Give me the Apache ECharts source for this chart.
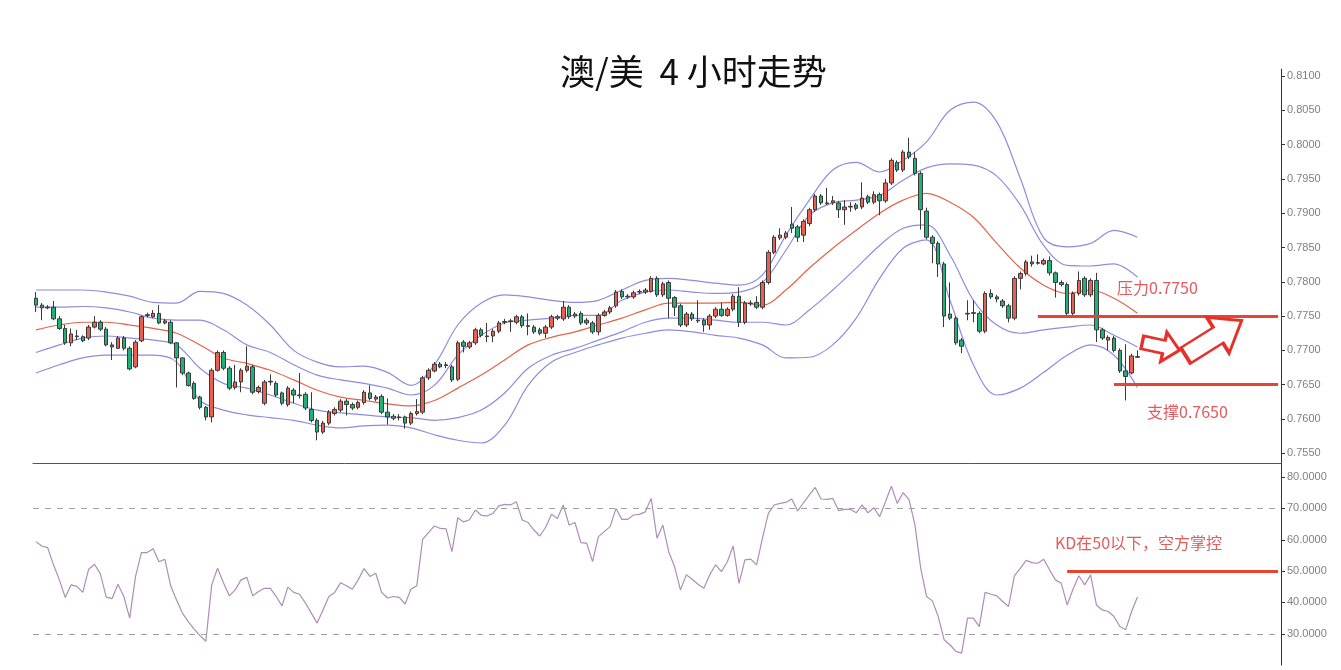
<!DOCTYPE html>
<html><head><meta charset="utf-8">
<script src="https://cdn.jsdelivr.net/npm/echarts@6/dist/echarts.min.js"></script>
<style>html,body{margin:0;padding:0;background:#fff}#c{width:1341px;height:670px}</style>
</head><body><div id="c"></div>
<script>
// [open, close, low, high]
const candles = [
[0.7776,0.7766,0.7756,0.7785],[0.7766,0.7762,0.7744,0.7769],[0.7763,0.7762,0.7760,0.7766],[0.7763,0.7746,0.7744,0.7772],
[0.7746,0.7732,0.7730,0.7750],[0.7732,0.7711,0.7708,0.7737],[0.7711,0.7724,0.7706,0.7732],[0.7721,0.7720,0.7715,0.7730],
[0.7720,0.7714,0.7712,0.7722],[0.7718,0.7734,0.7715,0.7737],[0.7734,0.7741,0.7732,0.7750],[0.7741,0.7731,0.7728,0.7744],
[0.7731,0.7708,0.7706,0.7734],[0.7708,0.7705,0.7686,0.7712],[0.7703,0.7718,0.7702,0.7721],[0.7718,0.7703,0.7700,0.7721],
[0.7703,0.7673,0.7671,0.7706],[0.7676,0.7712,0.7674,0.7715],[0.7714,0.7749,0.7712,0.7751],[0.7751,0.7752,0.7748,0.7755],
[0.7749,0.7754,0.7747,0.7759],[0.7754,0.7740,0.7738,0.7766],[0.7740,0.7743,0.7738,0.7746],[0.7741,0.7711,0.7709,0.7744],
[0.7711,0.7689,0.7646,0.7712],[0.7689,0.7667,0.7664,0.7690],[0.7667,0.7649,0.7647,0.7669],[0.7652,0.7630,0.7628,0.7655],
[0.7632,0.7617,0.7614,0.7634],[0.7617,0.7603,0.7598,0.7619],[0.7603,0.7671,0.7595,0.7674],[0.7671,0.7697,0.7669,0.7700],
[0.7697,0.7674,0.7671,0.7700],[0.7674,0.7645,0.7642,0.7677],[0.7646,0.7654,0.7643,0.7679],[0.7654,0.7671,0.7639,0.7674],
[0.7671,0.7677,0.7668,0.7706],[0.7676,0.7639,0.7636,0.7679],[0.7640,0.7646,0.7637,0.7649],[0.7623,0.7654,0.7620,0.7657],
[0.7654,0.7655,0.7649,0.7665],[0.7652,0.7635,0.7632,0.7655],[0.7638,0.7623,0.7620,0.7640],[0.7621,0.7645,0.7618,0.7648],
[0.7642,0.7635,0.7623,0.7645],[0.7635,0.7634,0.7630,0.7667],[0.7636,0.7616,0.7613,0.7639],[0.7614,0.7598,0.7595,0.7639],
[0.7598,0.7581,0.7569,0.7601],[0.7581,0.7594,0.7578,0.7597],[0.7594,0.7610,0.7591,0.7613],[0.7608,0.7614,0.7605,0.7617],
[0.7613,0.7626,0.7610,0.7629],[0.7626,0.7621,0.7605,0.7629],[0.7621,0.7616,0.7613,0.7624],[0.7617,0.7624,0.7614,0.7627],
[0.7624,0.7639,0.7621,0.7642],[0.7638,0.7630,0.7627,0.7649],[0.7629,0.7632,0.7626,0.7635],[0.7633,0.7610,0.7607,0.7636],
[0.7610,0.7603,0.7592,0.7630],[0.7601,0.7604,0.7598,0.7607],[0.7603,0.7602,0.7598,0.7607],[0.7603,0.7594,0.7586,0.7605],
[0.7594,0.7608,0.7591,0.7611],[0.7608,0.7611,0.7605,0.7629],[0.7610,0.7660,0.7607,0.7663],[0.7660,0.7671,0.7657,0.7674],
[0.7670,0.7680,0.7668,0.7683],[0.7680,0.7676,0.7674,0.7683],[0.7679,0.7678,0.7674,0.7683],[0.7676,0.7657,0.7654,0.7679],
[0.7658,0.7711,0.7655,0.7714],[0.7712,0.7706,0.7697,0.7715],[0.7705,0.7711,0.7702,0.7714],[0.7711,0.7730,0.7708,0.7733],
[0.7730,0.7722,0.7719,0.7733],[0.7721,0.7720,0.7712,0.7740],[0.7721,0.7728,0.7712,0.7731],[0.7728,0.7740,0.7725,0.7743],
[0.7741,0.7742,0.7738,0.7746],[0.7743,0.7742,0.7727,0.7746],[0.7741,0.7749,0.7738,0.7752],[0.7749,0.7736,0.7733,0.7752],
[0.7736,0.7735,0.7722,0.7754],[0.7734,0.7727,0.7724,0.7737],[0.7730,0.7725,0.7722,0.7733],[0.7725,0.7734,0.7718,0.7737],
[0.7734,0.7749,0.7731,0.7752],[0.7749,0.7747,0.7744,0.7752],[0.7746,0.7763,0.7743,0.7772],[0.7763,0.7749,0.7746,0.7766],
[0.7750,0.7753,0.7747,0.7756],[0.7754,0.7740,0.7737,0.7757],[0.7744,0.7740,0.7737,0.7747],[0.7740,0.7727,0.7724,0.7743],
[0.7727,0.7751,0.7722,0.7754],[0.7751,0.7756,0.7749,0.7759],[0.7756,0.7762,0.7753,0.7765],[0.7765,0.7785,0.7762,0.7788],
[0.7786,0.7778,0.7775,0.7789],[0.7779,0.7778,0.7775,0.7782],[0.7778,0.7784,0.7775,0.7787],[0.7785,0.7786,0.7782,0.7789],
[0.7785,0.7788,0.7782,0.7791],[0.7786,0.7805,0.7784,0.7808],[0.7805,0.7781,0.7778,0.7808],[0.7781,0.7797,0.7778,0.7800],
[0.7799,0.7776,0.7747,0.7802],[0.7777,0.7763,0.7750,0.7779],[0.7765,0.7737,0.7734,0.7768],[0.7737,0.7753,0.7734,0.7756],
[0.7753,0.7746,0.7743,0.7756],[0.7744,0.7743,0.7740,0.7773],[0.7744,0.7737,0.7727,0.7747],[0.7737,0.7750,0.7730,0.7753],
[0.7750,0.7760,0.7747,0.7763],[0.7760,0.7751,0.7749,0.7770],[0.7751,0.7760,0.7749,0.7763],[0.7760,0.7779,0.7757,0.7782],
[0.7779,0.7741,0.7734,0.7792],[0.7741,0.7769,0.7738,0.7772],[0.7769,0.7768,0.7765,0.7773],[0.7770,0.7763,0.7760,0.7779],
[0.7763,0.7799,0.7760,0.7802],[0.7799,0.7843,0.7796,0.7846],[0.7843,0.7865,0.7840,0.7868],[0.7864,0.7868,0.7861,0.7878],
[0.7865,0.7871,0.7862,0.7874],[0.7884,0.7878,0.7871,0.7909],[0.7880,0.7865,0.7858,0.7883],[0.7868,0.7888,0.7858,0.7891],
[0.7885,0.7905,0.7881,0.7908],[0.7905,0.7925,0.7902,0.7928],[0.7925,0.7915,0.7912,0.7928],[0.7915,0.7914,0.7912,0.7937],
[0.7915,0.7918,0.7912,0.7925],[0.7915,0.7905,0.7893,0.7918],[0.7905,0.7909,0.7883,0.7919],[0.7910,0.7909,0.7902,0.7916],
[0.7912,0.7907,0.7904,0.7915],[0.7909,0.7922,0.7906,0.7945],[0.7924,0.7916,0.7913,0.7927],[0.7916,0.7927,0.7913,0.7932],
[0.7927,0.7918,0.7897,0.7930],[0.7918,0.7944,0.7915,0.7950],[0.7944,0.7977,0.7941,0.7980],[0.7974,0.7963,0.7960,0.7977],
[0.7963,0.7989,0.7960,0.7992],[0.7989,0.7982,0.7979,0.8010],[0.7980,0.7958,0.7955,0.7989],[0.7958,0.7905,0.7876,0.7961],
[0.7903,0.7865,0.7862,0.7908],[0.7865,0.7856,0.7827,0.7868],[0.7856,0.7826,0.7807,0.7859],[0.7826,0.7750,0.7734,0.7829],
[0.7753,0.7747,0.7744,0.7799],[0.7747,0.7711,0.7708,0.7750],[0.7715,0.7706,0.7696,0.7718],[0.7754,0.7753,0.7744,0.7773],
[0.7754,0.7755,0.7741,0.7773],[0.7754,0.7728,0.7725,0.7757],[0.7728,0.7783,0.7725,0.7786],[0.7783,0.7778,0.7775,0.7789],
[0.7778,0.7775,0.7770,0.7781],[0.7772,0.7765,0.7762,0.7775],[0.7765,0.7747,0.7741,0.7768],[0.7747,0.7805,0.7744,0.7808],
[0.7805,0.7812,0.7789,0.7815],[0.7812,0.7829,0.7809,0.7832],[0.7829,0.7826,0.7822,0.7838],[0.7828,0.7827,0.7825,0.7840],
[0.7826,0.7831,0.7824,0.7834],[0.7831,0.7813,0.7809,0.7837],[0.7813,0.7799,0.7777,0.7815],[0.7799,0.7796,0.7793,0.7802],
[0.7796,0.7754,0.7751,0.7799],[0.7754,0.7783,0.7751,0.7786],[0.7783,0.7802,0.7780,0.7815],[0.7805,0.7781,0.7778,0.7808],
[0.7781,0.7802,0.7778,0.7805],[0.7802,0.7730,0.7712,0.7813],[0.7730,0.7718,0.7715,0.7733],[0.7715,0.7719,0.7700,0.7722],
[0.7718,0.7700,0.7697,0.7721],[0.7700,0.7670,0.7667,0.7703],[0.7670,0.7662,0.7627,0.7709],[0.7667,0.7692,0.7665,0.7695],
[0.7690,0.7691,0.7689,0.7700]
];

const kdValues = [
59.4,58.0,57.5,52.0,47.2,41.6,45.6,45.1,43.2,50.6,52.2,49.1,41.7,41.2,45.8,41.9,35.0,48.3,55.9,55.9,
57.1,53.0,53.8,45.3,40.8,36.6,33.9,31.5,29.4,27.6,45.6,50.9,46.3,42.1,44.0,47.2,48.0,42.1,43.5,44.5,
44.5,41.9,38.9,44.9,43.2,42.6,39.8,36.6,33.4,37.6,41.9,43.2,46.3,45.3,44.2,47.2,50.8,48.3,49.3,43.2,
41.4,41.9,41.6,39.5,44.2,45.3,60.1,62.3,64.4,63.6,63.5,56.2,67.0,65.7,66.4,69.5,67.8,67.6,68.4,70.8,
71.3,71.1,72.1,66.3,65.5,63.1,61.2,64.0,68.1,66.8,71.1,64.7,65.5,59.1,58.9,53.0,61.0,62.6,64.2,70.0,
66.5,66.5,67.9,68.1,68.9,73.2,60.5,64.7,56.2,51.4,44.0,48.8,47.4,45.8,44.5,48.8,52.0,49.8,53.0,58.0,
46.1,53.6,53.8,52.0,60.5,68.4,71.1,71.6,71.9,73.0,69.2,71.8,74.3,76.7,73.0,72.9,73.2,69.3,69.7,69.7,
68.6,71.1,68.6,70.2,67.4,72.1,77.1,71.6,75.0,72.9,65.0,51.0,41.9,40.5,35.5,28.1,26.5,24.4,23.8,35.0,
35.0,32.3,43.2,42.6,42.1,40.3,38.7,48.5,50.9,53.4,52.7,52.5,53.8,50.4,47.2,46.1,39.2,44.2,48.5,45.6,
48.8,39.2,37.6,37.1,35.5,32.3,31.3,37.1,41.7
];

// Bollinger-style envelope lines, read every 4 bars
const bandIdx = [0,4,8,12,16,20,24,28,32,36,40,44,48,52,56,60,64,68,72,76,80,84,88,92,96,100,104,108,112,116,120,124,128,132,136,140,144,148,152,156,160,164,168,172,176,180,184,188];
const bandUpperOuter = [0.7788,0.7788,0.7788,0.7785,0.7779,0.7770,0.7769,0.7786,0.7783,0.7766,0.7737,0.7700,0.7683,0.7676,0.7677,0.7668,0.7649,0.7679,0.7737,0.7769,0.7781,0.7778,0.7773,0.7770,0.7773,0.7788,0.7802,0.7805,0.7802,0.7798,0.7795,0.7810,0.7868,0.7919,0.7963,0.7974,0.7960,0.7977,0.8004,0.8050,0.8062,0.8033,0.7951,0.7864,0.7851,0.7856,0.7875,0.7865];
const bandUpperInner = [0.7763,0.7763,0.7764,0.7762,0.7756,0.7747,0.7744,0.7744,0.7730,0.7708,0.7697,0.7679,0.7664,0.7657,0.7652,0.7645,0.7635,0.7649,0.7693,0.7722,0.7740,0.7744,0.7747,0.7751,0.7751,0.7773,0.7785,0.7788,0.7785,0.7783,0.7785,0.7799,0.7846,0.7897,0.7915,0.7919,0.7926,0.7948,0.7966,0.7972,0.7970,0.7954,0.7912,0.7853,0.7824,0.7823,0.7826,0.7807];
const bandMiddle = [0.7730,0.7737,0.7741,0.7741,0.7737,0.7732,0.7725,0.7708,0.7689,0.7681,0.7671,0.7657,0.7642,0.7632,0.7627,0.7622,0.7619,0.7627,0.7645,0.7664,0.7686,0.7708,0.7719,0.7727,0.7737,0.7747,0.7759,0.7769,0.7769,0.7769,0.7770,0.7766,0.7788,0.7820,0.7849,0.7875,0.7900,0.7919,0.7929,0.7916,0.7894,0.7856,0.7820,0.7795,0.7783,0.7788,0.7776,0.7754];
const bandLowerInner = [0.7697,0.7708,0.7718,0.7721,0.7718,0.7715,0.7708,0.7674,0.7652,0.7645,0.7635,0.7623,0.7613,0.7609,0.7606,0.7603,0.7602,0.7598,0.7602,0.7613,0.7638,0.7674,0.7693,0.7703,0.7715,0.7727,0.7741,0.7747,0.7747,0.7744,0.7741,0.7741,0.7737,0.7759,0.7788,0.7820,0.7853,0.7878,0.7883,0.7839,0.7773,0.7737,0.7725,0.7730,0.7734,0.7737,0.7722,0.7705];
const bandLowerOuter = [0.7667,0.7679,0.7689,0.7693,0.7693,0.7693,0.7683,0.7627,0.7613,0.7606,0.7602,0.7598,0.7591,0.7587,0.7590,0.7591,0.7587,0.7577,0.7569,0.7565,0.7591,0.7649,0.7683,0.7697,0.7708,0.7718,0.7725,0.7730,0.7727,0.7722,0.7718,0.7708,0.7689,0.7690,0.7708,0.7747,0.7805,0.7849,0.7861,0.7773,0.7679,0.7635,0.7645,0.7668,0.7693,0.7708,0.7693,0.7646];

const priceTicks = [0.7550,0.7600,0.7650,0.7700,0.7750,0.7800,0.7850,0.7900,0.7950,0.8000,0.8050,0.8100];
const kdTicks = [30,40,50,60,70,80];
const resistance = 0.7750, support = 0.7650, kdMid = 50, kdHigh = 70, kdLow = 30;
const slotCount = 213;
const categories = [];
for (let i = 0; i < slotCount; i++) categories.push(String(i));

const pairs = vals => bandIdx.map((x, k) => [x, vals[k]]);
const purple = '#8c8ce2', redLine = '#e6452f', annot = '#e35b5b';
const bandLine = (name, vals, color) => ({
  name, type: 'line', xAxisIndex: 0, yAxisIndex: 0, data: pairs(vals),
  showSymbol: false, smooth: 0.35, silent: true,
  lineStyle: { color, width: 1.2 }, z: 1
});
const arrowPath = 'path://M0,28 L58,28 L58,0 L100,50 L58,100 L58,72 L0,72 Z';
const cjk = 'Noto Sans CJK SC';

const chart = echarts.init(document.getElementById('c'));
chart.setOption({
  animation: false,
  backgroundColor: '#fff',
  title: [
    { text: '澳/美  4 小时走势', left: 555, top: 49, textStyle: { fontFamily: cjk, fontSize: 35, fontWeight: 'normal', color: '#111' } },
    { text: '压力0.7750', left: 1112, top: 275, textStyle: { fontFamily: cjk, fontSize: 16, fontWeight: 'normal', color: annot } },
    { text: '支撑0.7650', left: 1142, top: 399, textStyle: { fontFamily: cjk, fontSize: 16, fontWeight: 'normal', color: annot } },
    { text: 'KD在50以下，空方掌控', left: 1050, top: 530, textStyle: { fontFamily: cjk, fontSize: 16, fontWeight: 'normal', color: annot } }
  ],
  grid: [
    { left: 33, right: 60, top: 69.1, bottom: 206.4 },
    { left: 33, right: 60, top: 463.6, bottom: 4.9 }
  ],
  xAxis: [
    { type: 'category', gridIndex: 0, data: categories, boundaryGap: true,
      axisLine: { show: true, lineStyle: { color: '#555', width: 1 } }, axisTick: { show: false }, axisLabel: { show: false }, splitLine: { show: false } },
    { type: 'category', gridIndex: 1, data: categories, boundaryGap: true,
      axisLine: { show: false }, axisTick: { show: false }, axisLabel: { show: false }, splitLine: { show: false } }
  ],
  yAxis: [
    { type: 'value', gridIndex: 0, position: 'right', min: 0.7535, max: 0.8110, scale: true,
      axisLine: { show: true, lineStyle: { color: '#333' } },
      axisTick: { show: true, length: 4, inside: false, lineStyle: { color: '#333' }, customValues: priceTicks },
      axisLabel: { show: true, customValues: priceTicks, margin: 6, color: '#808080', fontSize: 11, fontFamily: 'Arial, Liberation Sans', formatter: v => v.toFixed(4) },
      splitLine: { show: false } },
    { type: 'value', gridIndex: 1, position: 'right', min: 20, max: 84.3,
      axisLine: { show: true, lineStyle: { color: '#333' } },
      axisTick: { show: true, length: 4, lineStyle: { color: '#333' }, customValues: kdTicks },
      axisLabel: { show: true, customValues: kdTicks, margin: 6, color: '#808080', fontSize: 11, fontFamily: 'Arial, Liberation Sans', formatter: v => v.toFixed(4) },
      splitLine: { show: false } }
  ],
  series: [
    bandLine('upper2', bandUpperOuter, purple),
    bandLine('upper1', bandUpperInner, purple),
    bandLine('middle', bandMiddle, '#e2654a'),
    bandLine('lower1', bandLowerInner, purple),
    bandLine('lower2', bandLowerOuter, purple),
    {
      name: 'AUDUSD', type: 'candlestick', xAxisIndex: 0, yAxisIndex: 0, data: candles, barWidth: 4, z: 3,
      itemStyle: { color: '#e8604f', color0: '#22b07a', borderColor: '#3a3a3a', borderColor0: '#3a3a3a', borderWidth: 1 },
      markLine: {
        silent: true, symbol: 'none', label: { show: false },
        lineStyle: { color: redLine, width: 3, type: 'solid' },
        data: [
          [{ coord: [171, resistance] }, { coord: [212, resistance] }],
          [{ coord: [184, support] }, { coord: [212, support] }]
        ]
      },
      markPoint: {
        silent: true, label: { show: false },
        data: [
          { coord: [192, 0.7706], symbol: arrowPath, symbolSize: [38, 30], symbolRotate: -12,
            itemStyle: { color: 'rgba(0,0,0,0)', borderColor: '#e8302a', borderWidth: 3 } },
          { coord: [201, 0.7718], symbol: arrowPath, symbolSize: [66, 42], symbolRotate: 32,
            itemStyle: { color: 'rgba(0,0,0,0)', borderColor: '#e8302a', borderWidth: 3 } }
        ]
      }
    },
    {
      name: 'KD', type: 'line', xAxisIndex: 1, yAxisIndex: 1, data: kdValues, showSymbol: false,
      lineStyle: { color: '#b08cb8', width: 1.2 }, z: 3,
      markLine: {
        silent: true, symbol: 'none', label: { show: false },
        data: [
          { yAxis: kdHigh, lineStyle: { color: '#a0a0a0', type: [6, 6], width: 1 } },
          { yAxis: kdLow, lineStyle: { color: '#a0a0a0', type: [6, 6], width: 1 } },
          [{ coord: [176, kdMid], lineStyle: { color: redLine, width: 3, type: 'solid' } }, { coord: [212, kdMid] }]
        ]
      }
    }
  ]
});
</script>
</body></html>
